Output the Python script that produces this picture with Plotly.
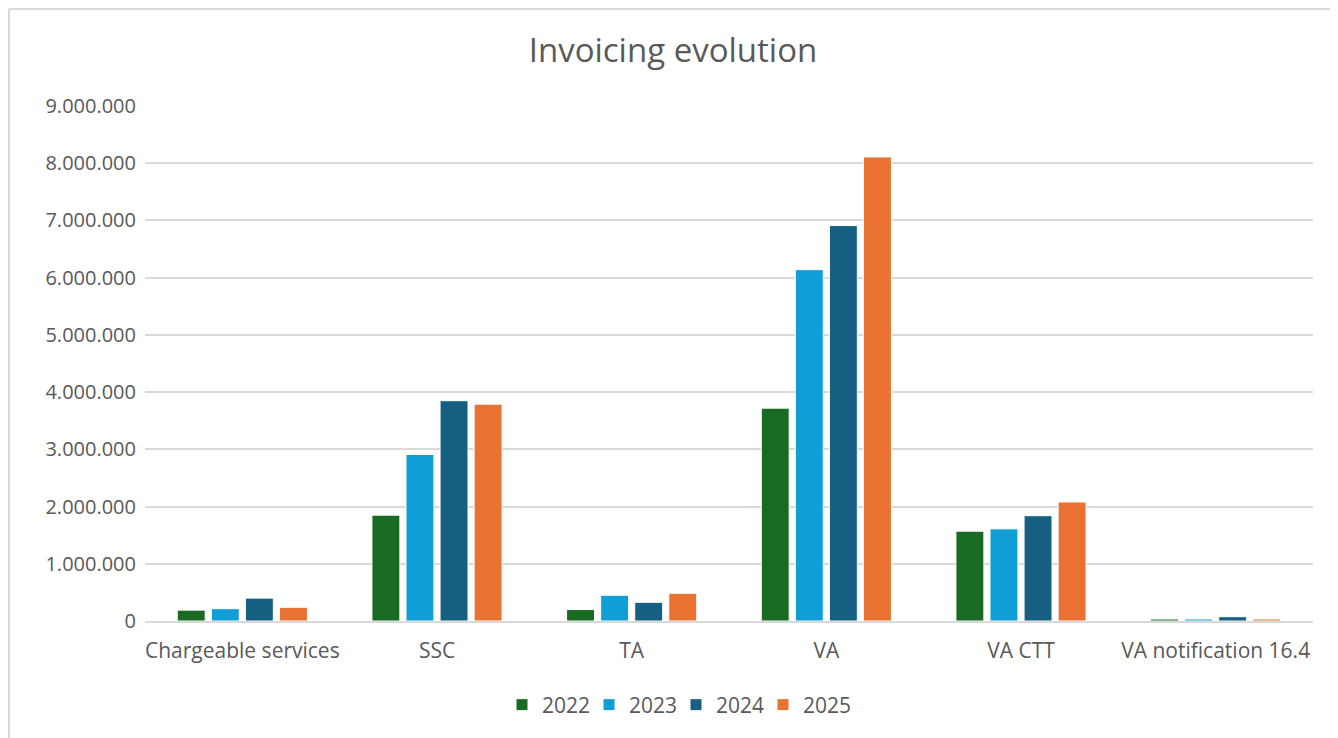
import plotly.graph_objects as go

categories = ["Chargeable services", "SSC", "TA", "VA", "VA CTT", "VA notification 16.4"]
years = ["2022", "2023", "2024", "2025"]
v2022 = [190000, 1850000, 200000, 3720000, 1570000, 35000]
v2023 = [215000, 2910000, 450000, 6140000, 1610000, 35000]
v2024 = [400000, 3850000, 327000, 6910000, 1840000, 75000]
v2025 = [240000, 3790000, 484000, 8110000, 2080000, 35000]
series = [v2022, v2023, v2024, v2025]
colors = ["#196B24", "#0F9ED5", "#156082", "#E97132"]
y_ticks = [0, 1000000, 2000000, 3000000, 4000000, 5000000, 6000000, 7000000, 8000000, 9000000]

fig = go.Figure()
for name, vals, col in zip(years, series, colors):
    fig.add_trace(go.Bar(
        x=categories, y=vals, name=name,
        marker=dict(color=col, line=dict(color="white", width=1)),
    ))

W, H = 1330, 730
L, R, T, B = 137, 25, 98, 117
PW, PH = W - L - R, H - T - B

font_family = "Open Sans, Lato, sans-serif"
border = dict(color="#d9d9d9", width=2)
fig.update_layout(
    width=W, height=H,
    paper_bgcolor="white", plot_bgcolor="white",
    separators=",.",
    title=dict(text="Invoicing evolution", x=0.5, xanchor="center", y=1 - 42 / H, yanchor="middle",
               font=dict(family=font_family, size=33, color="#595959")),
    margin=dict(l=L, r=R, t=T, b=B, autoexpand=False),
    barmode="group", bargap=0.30, bargroupgap=0.18,
    xaxis=dict(showgrid=False, showline=True, linecolor="#d9d9d9", linewidth=2,
               automargin=False, ticklabelstandoff=10,
               tickfont=dict(family=font_family, size=21, color="#595959"), ticks=""),
    yaxis=dict(range=[0, 9000000], tickvals=y_ticks, tickformat=",d",
               showgrid=True, gridcolor="#d9d9d9", gridwidth=2, zeroline=False,
               showline=False, ticks="", ticklen=0, automargin=False, ticklabelstandoff=8,
               tickfont=dict(family=font_family, size=20, color="#595959")),
    legend=dict(orientation="h", x=(508 - 14 - L) / PW, xanchor="left",
                y=-(697 - (H - B)) / PH, yanchor="middle",
                font=dict(family=font_family, size=21, color="#595959"),
                entrywidth=42, traceorder="normal"),
    showlegend=True,
    shapes=[
        dict(type="line", xref="paper", yref="paper",
             x0=(1 - L) / PW, x1=(W - L) / PW, y0=1 + (T - 1) / PH, y1=1 + (T - 1) / PH,
             line=border, layer="below"),
        dict(type="line", xref="paper", yref="paper",
             x0=(1 - L) / PW, x1=(1 - L) / PW, y0=-(H - (H - B)) / PH, y1=1 + (T - 1) / PH,
             line=border, layer="below"),
    ],
)

fig.write_html("out.html")
